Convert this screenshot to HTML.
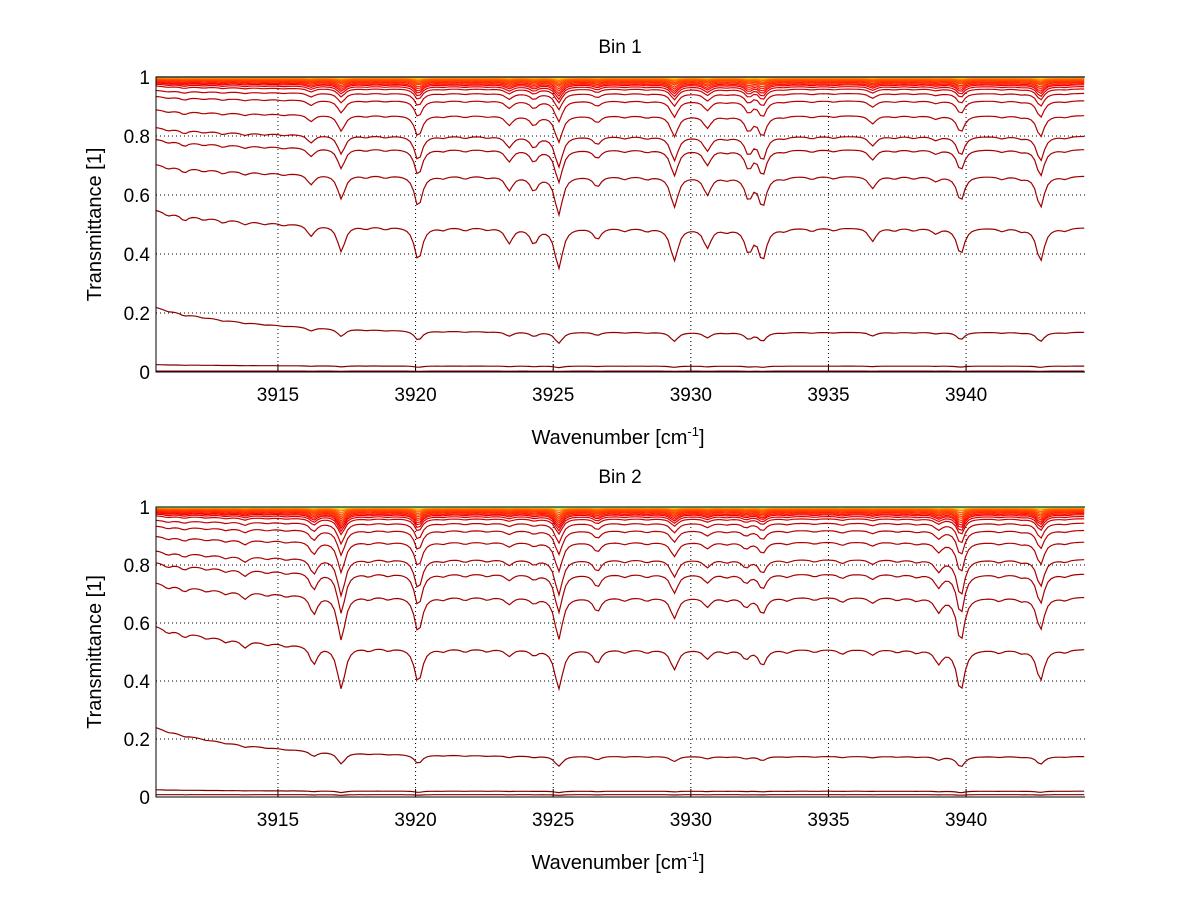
<!DOCTYPE html>
<html><head><meta charset="utf-8"><style>
body{margin:0;background:#fff;}
svg text{font-family:"Liberation Sans",sans-serif;fill:#000;}
</style></head><body>
<svg id="chart" width="1200" height="901" viewBox="0 0 1200 901"></svg>
<script>
// ---- data ----
const xTicks = [3915, 3920, 3925, 3930, 3935, 3940];
const yTicks = [0, 0.2, 0.4, 0.6, 0.8, 1];
const xMin = 3910.57, xMax = 3944.32;
// line lists (center wavenumber, relative depth)
const lineCenters1 = [3911.0,3911.6,3912.3,3913.0,3913.8,3914.5,3915.2,3916.2,3917.3,3918.2,3918.9,3920.1,3921.0,3921.8,3922.6,3923.4,3924.3,3925.2,3926.6,3927.6,3928.4,3929.4,3930.6,3931.3,3932.1,3932.6,3933.4,3934.4,3935.2,3936.6,3937.4,3938.1,3938.9,3939.8,3941.3,3942.0,3942.7,3943.6];
const lineDepths1  = [0.07,0.12,0.06,0.08,0.08,0.05,0.05,0.25,0.6,0.06,0.06,0.8,0.06,0.07,0.05,0.35,0.35,1.0,0.25,0.07,0.07,0.78,0.45,0.07,0.55,0.75,0.06,0.07,0.06,0.3,0.06,0.06,0.12,0.62,0.07,0.06,0.8,0.06];
const lineCenters2 = [3911.0,3911.6,3912.4,3913.1,3913.8,3914.6,3915.3,3916.3,3917.3,3918.3,3919.0,3920.1,3921.0,3921.8,3922.6,3923.4,3924.3,3925.2,3926.6,3927.6,3928.4,3929.4,3930.6,3931.3,3932.0,3932.6,3933.5,3934.5,3935.5,3936.6,3937.5,3938.2,3939.0,3939.8,3941.2,3942.0,3942.7,3943.6];
const lineDepths2  = [0.08,0.1,0.06,0.08,0.15,0.06,0.06,0.4,1.0,0.07,0.06,0.8,0.06,0.07,0.06,0.15,0.12,0.95,0.3,0.07,0.07,0.45,0.2,0.07,0.2,0.35,0.07,0.06,0.1,0.12,0.06,0.07,0.3,1.0,0.07,0.06,0.72,0.06];
// curves: baseline level, extra rise at left edge, optical-depth scale
const base1 = [0.003,0.02,0.135,0.49,0.665,0.755,0.80,0.87,0.92,0.945,0.96,0.968,0.974,0.978,0.982,0.985,0.988,0.99,0.992,0.994,0.996,0.998,0.999,1.0];
const rise1 = [0,0.005,0.085,0.06,0.04,0.035,0.03,0.02,0.015,0.01,0.01,0.008,0.006,0.005,0.004,0.004,0.003,0.003,0.002,0.002,0.001,0,0,0];
const tau1  = [0.3,0.3,0.33,0.33,0.22,0.16,0.14,0.11,0.08,0.06,0.05,0.045,0.04,0.035,0.03,0.025,0.02,0.017,0.014,0.011,0.008,0.005,0.003,0];
const base2 = [0.008,0.02,0.14,0.51,0.69,0.77,0.82,0.88,0.92,0.945,0.96,0.968,0.974,0.978,0.982,0.985,0.988,0.99,0.992,0.994,0.996,0.998,0.999,1.0];
const rise2 = [0,0.005,0.1,0.08,0.05,0.04,0.03,0.02,0.015,0.01,0.01,0.008,0.006,0.005,0.004,0.004,0.003,0.003,0.002,0.002,0.001,0,0,0];
const tau2  = [0.3,0.3,0.3,0.33,0.25,0.2,0.17,0.13,0.1,0.08,0.06,0.055,0.05,0.045,0.04,0.035,0.03,0.025,0.02,0.015,0.01,0.006,0.003,0];
const colors1 = ["#800000","#800000","#8c0000","#990000","#a00000","#a50000","#aa0000","#b00000","#b80000","#c00000","#d00000","#e00000","#f00000","#ff1000","#ff2000","#ff3000","#ff3c00","#ff4800","#ff5400","#ff6000","#ff8000","#ffb000","#ffe000","#0010c0"];
const colors2 = ["#800000","#800000","#8c0000","#990000","#a00000","#a50000","#aa0000","#b00000","#b80000","#c00000","#d00000","#e00000","#f00000","#ff1000","#ff2000","#ff3000","#ff3c00","#ff4800","#ff5400","#ff6000","#ff8000","#ffb000","#c0ff40","#40ffd0"];

const panels = [
  {name:'bin-1', title:'Bin 1', top:77, bottom:372, centers:lineCenters1, depths:lineDepths1, base:base1, rise:rise1, tau:tau1, colors:colors1},
  {name:'bin-2', title:'Bin 2', top:507, bottom:797, centers:lineCenters2, depths:lineDepths2, base:base2, rise:rise2, tau:tau2, colors:colors2}
];
const L = 156, R = 1085;
const svg = document.getElementById('chart');
const NS = 'http://www.w3.org/2000/svg';
function mk(tag, attrs, parent){const e=document.createElementNS(NS,tag);for(const k in attrs)e.setAttribute(k,attrs[k]);parent.appendChild(e);return e;}
const xs = v => L + (v - xMin) / (xMax - xMin) * (R - L);

panels.forEach(p => {
  const ys = v => p.bottom - v * (p.bottom - p.top);
  const g = mk('g', {}, svg);
  
  
  xTicks.forEach(t => {
    const l = mk('line', {x1:xs(t),x2:xs(t),y1:p.top,y2:p.bottom,stroke:'#000','stroke-width':1,'stroke-dasharray':'1,3'}, g);
    
    
    const tk = mk('line', {x1:xs(t),x2:xs(t),y1:p.bottom,y2:p.bottom-8,stroke:'#000'}, g);
    
    
    const tx = mk('text', {x:xs(t),y:p.bottom+29,'text-anchor':'middle','font-size':19}, g);
    tx.textContent = t;
    
    
  });
  yTicks.forEach(t => {
    const l = mk('line', {x1:L,x2:R,y1:ys(t),y2:ys(t),stroke:'#000','stroke-width':1,'stroke-dasharray':'1,3'}, g);
    
    
    const tx = mk('text', {x:L-6,y:ys(t)+7,'text-anchor':'end','font-size':19}, g);
    tx.textContent = t === 0 || t === 1 ? String(t) : t.toFixed(1);
    
    
  });
  p.base.forEach((b, i) => {
    let d = '';
    for (let x = xMin; x <= xMax + 1e-9; x += 0.12) {
      let A = 0;
      p.centers.forEach((c, k) => { const u = (x - c) / 0.16; A += p.depths[k] / (1 + u * u); });
      const B = b + p.rise[i] * Math.exp(-(x - xMin) / 3.5);
      let v = B * Math.exp(-p.tau[i] * A);
      if (v > 1) v = 1;
      d += (d ? 'L' : 'M') + xs(x).toFixed(1) + ',' + ys(v).toFixed(1);
    }
    const path = mk('path', {d, fill:'none', stroke:p.colors[i], 'stroke-width':1.2}, g);
    
    
  });
  const ax = mk('path', {d:`M${R},${p.top}H${L}V${p.bottom}H${R}`, fill:'none', stroke:'#000', 'stroke-width':1}, g);
  
  
  const tt = mk('text', {x:620,y:p.top-24,'text-anchor':'middle','font-size':19}, g);
  tt.textContent = p.title;
  
  
  const cy = (p.top + p.bottom) / 2;
  const yl = mk('text', {x:0,y:0,'text-anchor':'middle','font-size':20,transform:`translate(101,${cy}) rotate(-90)`}, g);
  yl.textContent = 'Transmittance [1]';
  
  
  const xl = mk('text', {x:618,y:p.bottom+72,'text-anchor':'middle','font-size':20}, g);
  xl.innerHTML = 'Wavenumber [cm<tspan dy="-8" font-size="13">-1</tspan><tspan dy="8">]</tspan>';
  
  
});
</script>
</body></html>
